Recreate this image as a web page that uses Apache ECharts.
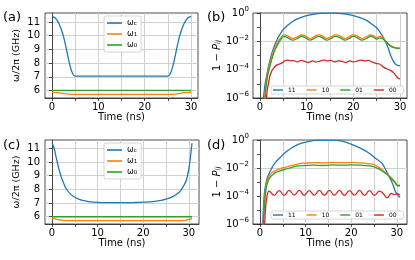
<!DOCTYPE html>
<html><head><meta charset="utf-8">
<script src="https://cdn.jsdelivr.net/npm/echarts@6/dist/echarts.min.js"></script>
<style>html,body{margin:0;padding:0;background:#fff}#c{width:415px;height:260px}</style>
</head><body><div id="c"></div>
<script>
// ---------- data ----------
const xTickVals = [0, 5, 10, 15, 20, 25, 30];
const xLabelVals = [0, 10, 20, 30];
const yFreqTicks = [6, 7, 8, 9, 10, 11];

// (a)
const timeA_wc = [0,0.5,1,1.5,2,2.5,3,3.5,4,4.5,5,25,25.5,26,26.5,27,27.5,28,28.5,29,29.5,30];
const wcA = [11.38,11.33,11.17,10.88,10.47,9.93,9.2,8.38,7.68,7.2,7.05,7.05,7.2,7.68,8.38,9.2,9.93,10.47,10.88,11.17,11.33,11.38];
const timeA_w1 = [0,1,2,3,4,5,25,26,27,28,29,30];
const w1A = [5.88,5.85,5.8,5.75,5.72,5.71,5.71,5.72,5.75,5.8,5.85,5.88];
const timeA_w0 = [0,30];
const w0A = [6.0,6.0];

// (c)
const timeC_wc = [0,0.25,0.5,1,1.5,2,2.5,3,4,5,6,7,8,10,12,15,18,20,22,24,25,26,27,28,28.5,29,29.5,30,30.3,30.5,30.7];
const wcC = [11.36,11.2,10.95,10.2,9.5,8.93,8.5,8.1,7.67,7.42,7.27,7.17,7.11,7.05,7.03,7.03,7.04,7.06,7.1,7.2,7.28,7.4,7.57,7.83,8.05,8.33,8.7,9.5,10.2,10.8,11.36];
const timeC_w1 = [0,0.5,1,2,3,5,25,27,28,29,29.5,30,30.7];
const w1C = [5.9,5.86,5.81,5.75,5.72,5.71,5.71,5.71,5.72,5.74,5.76,5.8,5.88];
const timeC_w0 = [0,30.7];
const w0C = [6.0,6.0];

// (b)
const timeB_11 = [0.5,1,1.5,2,2.5,3,3.5,4,5,6,7,8,9,10,12,14,15,16,18,20,22,23,24,25,26,27,27.5,28,28.5,29,29.5,30];
const b11 = [1e-7,6e-6,5e-5,3e-4,1.3e-3,4e-3,1e-2,2.2e-2,7e-2,0.14,0.25,0.38,0.52,0.66,0.87,0.98,0.99,0.99,0.87,0.65,0.4,0.28,0.16,0.09,0.032,8e-3,3.2e-3,1e-3,4.5e-4,2.5e-4,2e-4,1.9e-4];
const timeB_osc = [0.9,1.2,1.5,2,2.5,3,3.5,4,4.5,5.1,6,7,8,8.9,9.8,10.7,11.6,12.5,13.4,14.3,15.2,16.2,17.2,18.2,19.1,20,20.9,21.8,22.8,23.7,24.4,25,25.6,26.2,27,27.5,28,28.5,29,29.5,30];
const b10 = [1e-7,5e-6,3.2e-5,2e-4,7.9e-4,2.5e-3,5.6e-3,0.0112,0.019,0.0282,0.0234,0.0158,0.0209,0.028,0.0232,0.016,0.021,0.0285,0.0236,0.0158,0.0209,0.0282,0.0232,0.0158,0.021,0.0282,0.0234,0.016,0.0209,0.028,0.024,0.0178,0.0224,0.019,0.01,0.0071,0.005,0.004,0.0036,0.0035,0.0034];
const b01 = [1e-7,3.2e-6,2e-5,1.26e-4,5e-4,1.6e-3,4e-3,7.9e-3,0.0141,0.0224,0.0178,0.012,0.0158,0.0222,0.0176,0.0122,0.016,0.0226,0.0178,0.012,0.0158,0.0224,0.0176,0.012,0.016,0.0224,0.0178,0.0121,0.0158,0.0224,0.019,0.0141,0.0178,0.0158,0.0089,0.0063,0.0045,0.0037,0.0034,0.0032,0.0032];
const timeB_00 = [1.2,1.5,1.8,2.1,2.5,3,3.5,4,4.6,5.2,5.8,6.5,7.2,8,8.8,9.6,10.4,11.2,12,12.8,13.6,14.4,15.2,16,16.8,17.6,18.4,19.2,20,20.8,21.6,22.4,23.2,24,24.8,25.6,26.4,27.2,28,28.6,29.2,29.6,30];
const b00 = [1e-7,2.5e-6,1e-5,3.2e-5,7.9e-5,1.41e-4,2e-4,2.4e-4,2.8e-4,4e-4,4.7e-4,4.2e-4,4.4e-4,3.5e-4,4.5e-4,3.8e-4,3.2e-4,4.2e-4,3.5e-4,4e-4,4.7e-4,4.2e-4,4.5e-4,3.5e-4,4.2e-4,3.8e-4,3.2e-4,4.2e-4,3.5e-4,4e-4,4.7e-4,4.2e-4,4.5e-4,3.5e-4,2.8e-4,2.5e-4,1.58e-4,1.12e-4,8.9e-5,6.3e-5,3.5e-5,2.5e-5,2.2e-5];

// (d)
const timeD_11 = [0.5,0.7,0.95,1.3,1.7,2.5,3.3,4.4,5.5,7,8.4,10,12,14,15.7,18,20.1,22,23.8,25.3,26.7,27.6,28.5,29.1,29.6,30,30.4,30.7];
const d11 = [1e-7,6.3e-6,1.41e-4,7.9e-4,2.5e-3,8.9e-3,0.0234,0.056,0.123,0.28,0.49,0.71,0.93,0.995,0.995,0.83,0.49,0.26,0.123,0.05,0.0224,7.1e-3,1.9e-3,7.1e-4,2.5e-4,1.41e-4,1e-4,7.9e-5];
const timeD_osc = [0.6,0.9,1.2,1.5,1.9,2.5,3.3,4.4,5.5,7,8.4,10,12,14,16,18,20,22,24,25.3,26.7,27.6,28.5,29.5,30.1,30.7];
const d10 = [1e-7,1.6e-5,2.5e-4,1e-3,2.2e-3,4.5e-3,6.3e-3,8.9e-3,0.0112,0.0151,0.02,0.0224,0.024,0.0234,0.0251,0.024,0.0251,0.0234,0.02,0.0158,7.9e-3,4.5e-3,2.5e-3,1.12e-3,6.3e-4,6e-4];
const d01 = [1e-7,1e-5,1.58e-4,6.3e-4,1.41e-3,2.8e-3,4.5e-3,6.3e-3,7.9e-3,0.0112,0.0141,0.0151,0.0158,0.0151,0.0166,0.0158,0.0166,0.0158,0.0141,0.0112,6.3e-3,4e-3,2.2e-3,1e-3,5.6e-4,5.4e-4];
const timeD_00 = [0.9,1.2,1.5,2.0,3.1,4.2,5.3,6.4,7.5,8.6,9.7,10.8,11.9,13.0,14.1,15.2,16.3,17.4,18.5,19.6,20.7,21.8,22.9,24.0,25.1,26.2,27.2,27.9,28.8,29.5,30.1,30.7];
const d00 = [1e-7,1e-5,7.9e-5,2.24e-4,1.12e-4,2.4e-4,1.12e-4,2.5e-4,1.17e-4,2.5e-4,1.12e-4,2.4e-4,1.17e-4,2.5e-4,1.12e-4,2.5e-4,1.17e-4,2.5e-4,1.12e-4,2.4e-4,1.17e-4,2.5e-4,1.12e-4,2.4e-4,1.12e-4,2.24e-4,1.26e-4,7.6e-5,1.51e-4,1.26e-4,1.41e-4,1.2e-4];

// ---------- chart ----------
const FONT = 'DejaVu Sans';
const C = {blue:'#1f77b4', orange:'#ff7f0e', green:'#2ca02c', red:'#d62728'};
const pair = (ts, vs) => ts.map((t, i) => [t, vs[i]]);
const grids = [
  {left:45, top:13, width:153, height:85},
  {left:253, top:13, width:154, height:85},
  {left:45, top:140, width:154, height:84},
  {left:253, top:140, width:154, height:84}
].map(g => Object.assign({show:true, borderColor:'#222', borderWidth:0.8, backgroundColor:'transparent'}, g));

const lineCol = '#222';
const gridCol = '#d0d0d0';
function xAx(g, min, max) {
  return {type:'value', gridIndex:g, min:min, max:max,
    name:'Time (ns)', nameLocation:'middle', nameGap:14,
    nameTextStyle:{fontSize:10, color:'#000', fontFamily:FONT},
    axisLine:{show:true, lineStyle:{color:lineCol, width:0.8}},
    axisTick:{show:true, customValues:xTickVals, length:3, lineStyle:{color:lineCol, width:0.8}},
    axisLabel:{customValues:xLabelVals, fontSize:10, margin:4, color:'#000', fontFamily:FONT},
    splitLine:{show:true, lineStyle:{color:gridCol, width:1}}};
}
function yFreq(g, min, max) {
  return {type:'value', gridIndex:g, min:min, max:max,
    name:'ω/2π (GHz)', nameLocation:'middle', nameRotate:90, nameGap:23,
    nameTextStyle:{fontSize:9.5, color:'#000', fontFamily:FONT},
    axisLine:{show:true, lineStyle:{color:lineCol, width:0.8}},
    axisTick:{show:true, customValues:yFreqTicks, length:3, lineStyle:{color:lineCol, width:0.8}},
    axisLabel:{customValues:yFreqTicks, fontSize:10, margin:5, color:'#000', fontFamily:FONT},
    splitLine:{show:true, lineStyle:{color:gridCol, width:1}}};
}
function fmtLog(v) {
  const e = Math.round(Math.log10(v));
  if (e % 2 !== 0) return '';
  return '{b|10}{s|' + (e < 0 ? '−' : '') + Math.abs(e) + '}';
}
function yLog(g) {
  return {type:'log', logBase:10, gridIndex:g, min:1e-6, max:1,
    name:'1 − {p|P}{s|ij}', nameLocation:'middle', nameRotate:90, nameGap:30,
    nameTextStyle:{fontSize:10, color:'#000', fontFamily:FONT,
      rich:{p:{fontSize:10, fontStyle:'italic', fontFamily:FONT}, s:{fontSize:7, fontStyle:'italic', verticalAlign:'bottom', lineHeight:9, fontFamily:FONT}}},
    axisLine:{show:true, lineStyle:{color:lineCol, width:0.8}},
    axisTick:{show:true, length:3, lineStyle:{color:lineCol, width:0.8}},
    axisLabel:{formatter:fmtLog, margin:4, color:'#000', fontFamily:FONT,
      rich:{b:{fontSize:10, lineHeight:14, fontFamily:FONT, color:'#000'},
            s:{fontSize:7, lineHeight:8, verticalAlign:'top', fontFamily:FONT, color:'#000'}}},
    splitLine:{show:false}};
}
function ln(name, xi, data, color, smooth) {
  return {type:'line', name:name, xAxisIndex:xi, yAxisIndex:xi, data:data, showSymbol:false, symbol:'none',
    smooth:smooth, clip:true, lineStyle:{color:color, width:1.3}, itemStyle:{color:color}};
}
const gridMark = {silent:true, symbol:'none', z:0, label:{show:false},
  lineStyle:{color:gridCol, width:1, type:'solid'}, data:[{yAxis:1e-2},{yAxis:1e-4}]};

const series = [
  ln('wc_a', 0, pair(timeA_wc, wcA), C.blue, 0.3),
  ln('w1_a', 0, pair(timeA_w1, w1A), C.orange, 0.3),
  ln('w0_a', 0, pair(timeA_w0, w0A), C.green, false),
  Object.assign(ln('11_b', 1, pair(timeB_11, b11), C.blue, 0.4), {markLine:gridMark}),
  ln('10_b', 1, pair(timeB_osc, b10), C.orange, 0.4),
  ln('01_b', 1, pair(timeB_osc, b01), C.green, 0.4),
  ln('00_b', 1, pair(timeB_00, b00), C.red, 0.4),
  ln('wc_c', 2, pair(timeC_wc, wcC), C.blue, 0.3),
  ln('w1_c', 2, pair(timeC_w1, w1C), C.orange, 0.3),
  ln('w0_c', 2, pair(timeC_w0, w0C), C.green, false),
  Object.assign(ln('11_d', 3, pair(timeD_11, d11), C.blue, 0.4), {markLine:gridMark}),
  ln('10_d', 3, pair(timeD_osc, d10), C.orange, 0.4),
  ln('01_d', 3, pair(timeD_osc, d01), C.green, 0.4),
  ln('00_d', 3, pair(timeD_00, d00), C.red, 0.5)
];

const omegaRich = {w:{fontSize:8, lineHeight:8, fontFamily:FONT, color:'#000'},
                   s:{fontSize:5.5, lineHeight:6, verticalAlign:'bottom', fontFamily:FONT, color:'#000'}};
function omegaFmt(n) { return '{w|ω}{s|' + n.charAt(1) + '}'; }
function freqLegend(top, suffix) {
  return {orient:'vertical', left:104, top:top, padding:[3,4,3,3], itemGap:3, itemWidth:15, itemHeight:1.6, icon:'rect',
    backgroundColor:'rgba(255,255,255,0.85)', borderColor:'#cccccc', borderWidth:0.8, borderRadius:2,
    data:['wc'+suffix, 'w1'+suffix, 'w0'+suffix], formatter:omegaFmt,
    textStyle:{rich:omegaRich, fontSize:8, lineHeight:8}, selectedMode:false};
}
function popLegend(top, suffix) {
  return {orient:'horizontal', left:271, top:top, padding:[1,7,1,2], itemGap:11, itemWidth:10, itemHeight:1.4, icon:'rect',
    backgroundColor:'rgba(255,255,255,0.85)', borderColor:'#cccccc', borderWidth:0.8, borderRadius:2,
    data:['11'+suffix, '10'+suffix, '01'+suffix, '00'+suffix], formatter:n => n.slice(0, 2),
    textStyle:{fontSize:6, lineHeight:6, fontFamily:FONT, color:'#000'}, selectedMode:false};
}
const letter = (t, l, tp) => ({text:t, left:l, top:tp, padding:0,
  textStyle:{fontSize:13, fontWeight:'normal', color:'#000', fontFamily:FONT}});

const option = {
  animation:false,
  backgroundColor:'#fff',
  title:[letter('(a)', 3, 11), letter('(b)', 207, 11), letter('(c)', 3, 139), letter('(d)', 207, 139)],
  grid:grids,
  xAxis:[xAx(0, -1.5, 31.5), xAx(1, -1.5, 31.5), xAx(2, -1.535, 32.235), xAx(3, -1.535, 32.235)],
  yAxis:[yFreq(0, 5.45, 11.65), yLog(1), yFreq(2, 5.47, 11.6), yLog(3)],
  legend:[freqLegend(16, '_a'), popLegend(86, '_b'), freqLegend(143, '_c'), popLegend(211, '_d')],
  series:series
};
const chart = echarts.init(document.getElementById('c'), null, {renderer:'canvas'});
chart.setOption(option);
</script>
</body></html>
